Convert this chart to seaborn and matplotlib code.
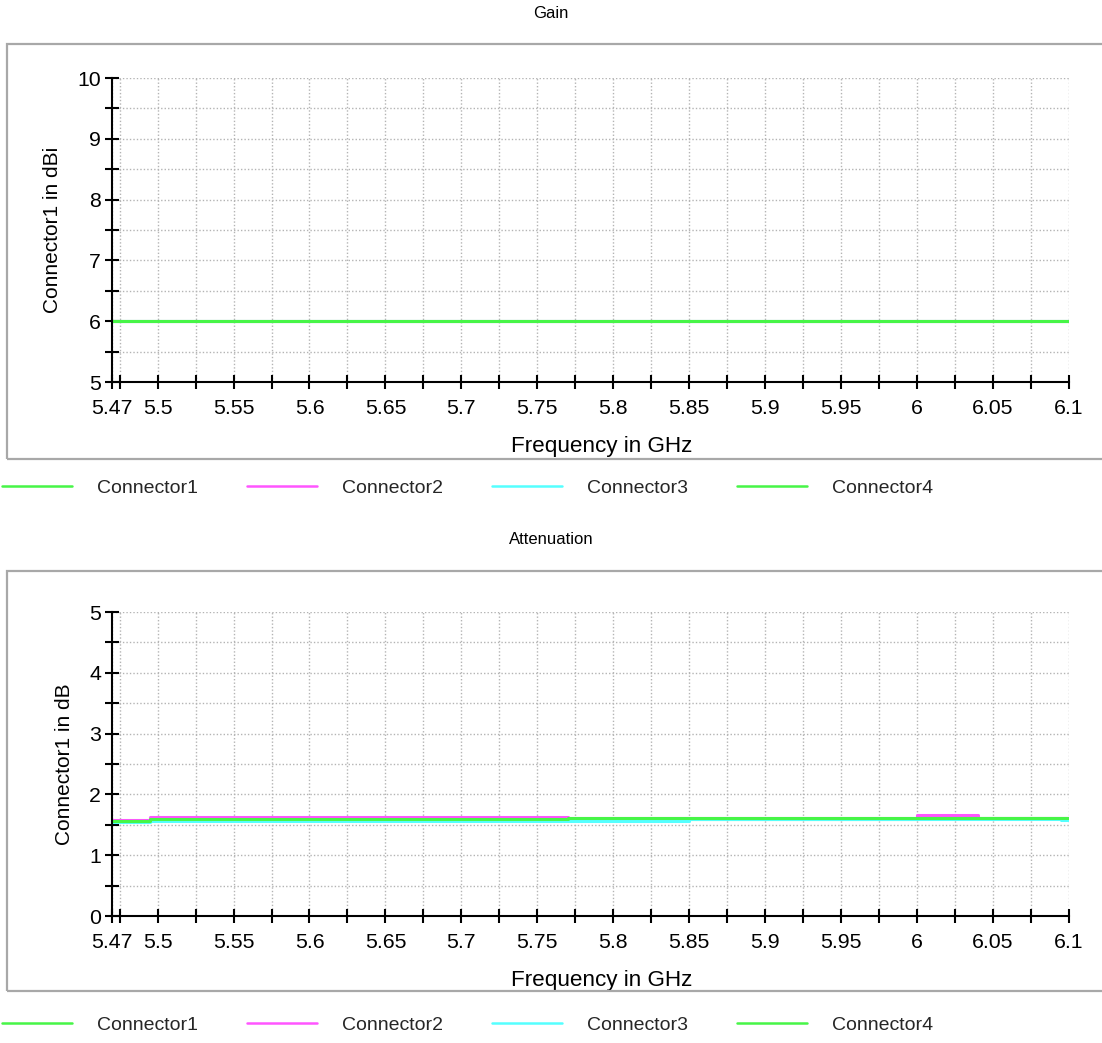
import matplotlib
matplotlib.use("Agg")
import matplotlib.pyplot as plt
from matplotlib.patches import Rectangle
from matplotlib.lines import Line2D
from matplotlib.ticker import FixedLocator, MultipleLocator, FuncFormatter
import seaborn as sns
import pandas as pd
import numpy as np

# ---- data ----
connectors = ["Connector1", "Connector2", "Connector3", "Connector4"]
line_colors = ["#47f547", "#ff55ff", "#55ffff", "#47f547"]

gain_freq = [5.47, 6.1]
gain_c1 = [6.0, 6.0]
gain_c2 = [6.0, 6.0]
gain_c3 = [6.0, 6.0]
gain_c4 = [6.0, 6.0]

att_freq = [5.47, 5.495, 5.77, 5.85, 6.0, 6.04, 6.095, 6.1]
att_c1 = [1.57, 1.59, 1.59, 1.60, 1.61, 1.61, 1.61, 1.61]
att_c2 = [1.585, 1.63, 1.61, 1.61, 1.66, 1.61, 1.61, 1.61]
att_c3 = [1.55, 1.56, 1.56, 1.60, 1.60, 1.60, 1.575, 1.575]
att_c4 = [1.565, 1.595, 1.605, 1.605, 1.61, 1.61, 1.61, 1.61]

x_labels = [5.47, 5.5, 5.55, 5.6, 5.65, 5.7, 5.75, 5.8, 5.85, 5.9, 5.95, 6.0, 6.05, 6.1]


def long_df(freq, series):
    rows = []
    for name, vals in zip(connectors, series):
        for f, v in zip(freq, vals):
            rows.append({"freq": f, "value": v, "connector": name})
    return pd.DataFrame(rows)


df_gain = long_df(gain_freq, [gain_c1, gain_c2, gain_c3, gain_c4])
df_att = long_df(att_freq, [att_c1, att_c2, att_c3, att_c4])

sns.set_theme(style="white")
plt.rcParams['font.family'] = ['Liberation Sans', 'DejaVu Sans']
plt.rcParams['font.size'] = 14

W, H = 1102, 1043
fig = plt.figure(figsize=(W / 100, H / 100), dpi=100)
fig.patch.set_facecolor("white")

palette = dict(zip(connectors, line_colors))


def fx(px):
    return px / W


def fy(py):
    return 1 - py / H


def panel(df, top_px, bottom_px, ylim, ylabel, title, title_y, frame, legend_y):
    ax = fig.add_axes([fx(112), fy(bottom_px), fx(1069 - 112), (bottom_px - top_px) / H])
    sns.lineplot(data=df, x="freq", y="value", hue="connector", palette=palette,
                 hue_order=connectors, drawstyle="steps-post", linewidth=2.2,
                 legend=False, ax=ax, estimator=None, sort=False)
    ax.set_xlim(5.47, 6.1)
    ax.set_ylim(*ylim)
    grid_x = [5.47] + list(np.arange(5.475, 6.1001, 0.025))
    ax.xaxis.set_major_locator(FixedLocator(x_labels))
    ax.xaxis.set_major_formatter(FuncFormatter(lambda v, p: f"{v:g}"))
    ax.xaxis.set_minor_locator(FixedLocator(grid_x))
    ax.yaxis.set_major_locator(MultipleLocator(1))
    ax.yaxis.set_minor_locator(MultipleLocator(0.5))
    ax.tick_params(axis="both", which="both", direction="inout", length=10, width=1.5,
                   color="black", labelsize=15.3, labelcolor="black",
                   bottom=True, left=True, top=False, right=False)
    ax.tick_params(axis="x", which="major", pad=7)
    ax.tick_params(axis="y", which="major", pad=3)
    ax.grid(which="both", color="#b4b4b4", linestyle=(0, (1, 1.5)), linewidth=1)
    for s in ["top", "right"]:
        ax.spines[s].set_visible(False)
    for s in ["left", "bottom"]:
        ax.spines[s].set_color("black")
        ax.spines[s].set_linewidth(1.5)
    ax.set_xlabel("Frequency in GHz", fontsize=16.2, color="black", labelpad=13, x=0.512)
    ax.set_ylabel(ylabel, fontsize=15, color="black", labelpad=11)
    ax.set_facecolor("white")

    fig.text(0.5, fy(title_y), title, ha="center", va="center", fontsize=12, color="black")
    fig.add_artist(Rectangle((fx(frame[0]), fy(frame[2])), 1.2, (frame[2] - frame[1]) / H,
                             transform=fig.transFigure, fill=False,
                             edgecolor="#a8a8a8", linewidth=1.6))

    handles = [Line2D([0], [0], color=c, lw=1.8) for c in line_colors]
    fig.legend(handles, connectors, loc="center left", bbox_to_anchor=(0.0, fy(legend_y)),
               ncol=4, frameon=False, fontsize=14, handlelength=3.6, handletextpad=1.3,
               columnspacing=2.5, borderaxespad=0, borderpad=0.1)
    return ax


panel(df_gain, 78, 382, (5, 10), "Connector1 in dBi", "Gain", 13, (7, 44, 459), 488)
panel(df_att, 612, 916, (0, 5), "Connector1 in dB", "Attenuation", 540, (7, 571, 991), 1025)

fig.savefig("out.png", dpi=100)
